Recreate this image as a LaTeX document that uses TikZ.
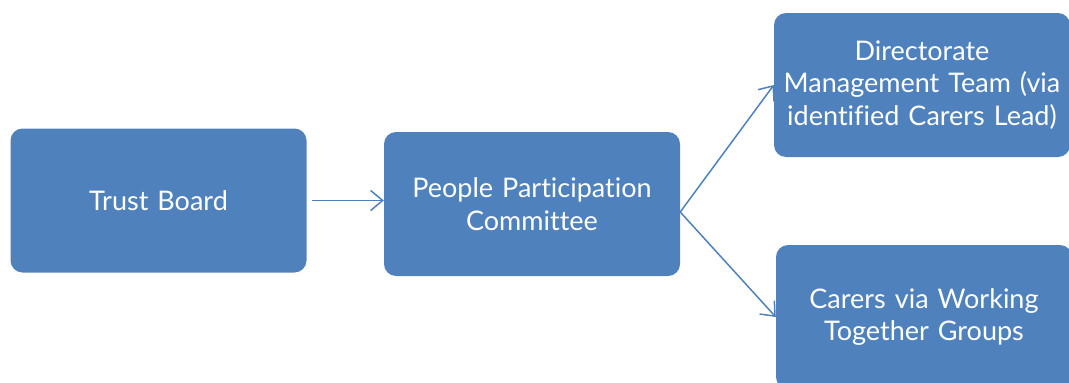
\documentclass[tikz,border=0pt]{standalone}
\usepackage{fontspec}
\setmainfont{Lato}[Ligatures=NoCommon]
\usetikzlibrary{arrows.meta,positioning}
\definecolor{boxblue}{RGB}{79,129,189}
\tikzset{%
	block/.style = {fill=boxblue, rectangle, rounded corners=12pt, minimum width=296pt, minimum height=144pt, text width=290pt, inner sep=0pt, align=center, text=white, font=\fontsize{27}{32.5}\selectfont},
	arrow/.style = {draw=boxblue, line width=1.5pt, -{Straight Barb[length=12pt,width=20pt]}},
}
\begin{document}
\begin{tikzpicture}[x=1pt,y=1pt]
	\useasboundingbox (0,0) rectangle (1069,-383);
	\node[block] (trust) at (158.5,-200.5) {Trust Board};
	\node[block] (ppc) at (532,-204) {People Participation\\Committee};
	\node[block] (dir) at (922,-85) {Directorate\\Management Team (via\\identified Carers Lead)};
	\node[block] (carers) at (924,-317) {Carers via Working\\Together Groups};
	\coordinate (fork) at ([yshift=-8pt]ppc.east);
	\draw[arrow, shorten <=5pt] (trust.east) -- (trust.east -| ppc.west);
	\draw[arrow] (fork) -- (dir.west);
	\draw[arrow] (fork) -- (carers.west);
\end{tikzpicture}
\end{document}
